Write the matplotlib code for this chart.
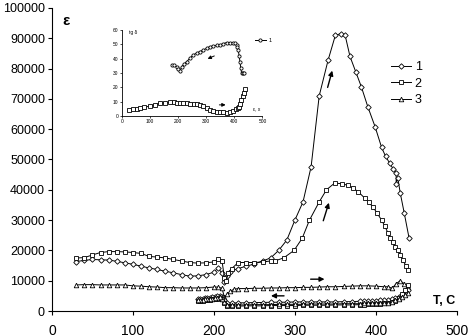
import matplotlib
matplotlib.use("Agg")
import matplotlib.pyplot as plt

plt.rcParams['font.family'] = ['Liberation Sans', 'DejaVu Sans']

# heating curves, main plot
t1 = [30, 40, 50, 60, 70, 80, 90, 100, 110, 120, 130, 140, 150, 160, 170, 180, 190, 200, 205,
      210, 213, 216, 220, 230, 240, 250, 260, 270, 280, 290, 300, 310, 320, 330, 341, 350, 357,
      362, 368, 375, 382, 390, 399, 407, 412, 417, 421, 425, 425, 427, 430, 435, 441]
e1 = [16300, 16700, 17000, 16900, 16800, 16400, 15900, 15400, 14800, 14200, 13700, 13100, 12600,
      12000, 11500, 11600, 12000, 12800, 14200, 12500, 9500, 11500, 13000, 14000, 14800, 15500,
      16500, 17500, 20000, 23400, 30000, 36000, 47600, 71000, 82800, 91000, 91500, 91000, 84000,
      79000, 74000, 67400, 60800, 54000, 51000, 48800, 47000, 45500, 42000, 44000, 39000, 32300, 24000]

t2 = [30, 40, 50, 60, 70, 80, 90, 100, 110, 120, 130, 140, 150, 160, 170, 180, 190, 200, 205,
      210, 213, 215, 218, 222, 230, 240, 250, 260, 270, 275, 286, 299, 309, 318, 330, 339, 349,
      358, 365, 372, 378, 386, 391, 396, 401, 407, 411, 415, 418, 421, 424, 427, 430, 433, 437, 440]
e2 = [17500, 17600, 18500, 19300, 19600, 19600, 19500, 19300, 19000, 18000, 17800, 17500, 17000,
      16500, 16000, 15800, 15900, 16200, 17000, 16500, 11000, 10000, 12500, 14000, 16000, 16000,
      16000, 16200, 16500, 16500, 17500, 20000, 24000, 30000, 36000, 40000, 42200, 42000, 41500,
      40500, 39400, 37300, 36000, 34400, 32500, 30000, 28000, 25700, 24000, 22900, 21000, 20000,
      18500, 16800, 15000, 13500]

t3 = [30, 40, 50, 60, 70, 80, 90, 100, 110, 120, 130, 140, 150, 160, 170, 180, 190, 200, 205,
      210, 213, 216, 220, 225, 230, 240, 250, 260, 270, 280, 290, 300, 310, 320, 330, 340, 350,
      360, 370, 380, 390, 400, 410, 415, 420, 425, 430, 435, 440]
e3 = [8600, 8700, 8700, 8600, 8600, 8600, 8600, 8300, 8200, 8000, 7900, 7700, 7700, 7600, 7600,
      7600, 7700, 7900, 7900, 7500, 4500, 5500, 6500, 7200, 7400, 7400, 7500, 7500, 7600, 7600,
      7700, 7700, 7800, 7800, 7900, 8000, 8000, 8100, 8200, 8300, 8300, 8200, 8000, 8000, 7500,
      9000, 10000, 9000, 8000]

# cooling curves (bottom band)
tc = [440, 436, 432, 428, 424, 420, 415, 410, 405, 400, 395, 390, 385, 380, 370, 360, 350, 340,
      330, 320, 310, 300, 290, 280, 270, 260, 250, 240, 230, 222, 216, 213, 210, 207, 204, 201,
      198, 195, 192, 189, 186, 183, 180]
ec1 = [7000, 6000, 5200, 4600, 4200, 3900, 3700, 3600, 3500, 3400, 3300, 3300, 3200, 3200, 3100,
       3100, 3000, 3000, 3000, 3000, 3000, 3000, 2900, 2900, 2900, 2800, 2800, 2700, 2700, 2600,
       2500, 3500, 4500, 5000, 4800, 4600, 4500, 4400, 4300, 4200, 4100, 4000, 3900]
ec2 = [8500, 7000, 5500, 4200, 3400, 3000, 2700, 2500, 2400, 2300, 2200, 2200, 2100, 2100, 2000,
       2000, 2000, 1900, 1900, 1900, 1900, 1800, 1800, 1800, 1800, 1700, 1700, 1700, 1600, 1600,
       1700, 2800, 3800, 4300, 4100, 3900, 3800, 3700, 3600, 3500, 3400, 3300, 3300]
ec3 = [6000, 5200, 4600, 4000, 3500, 3000, 2800, 2700, 2600, 2600, 2500, 2500, 2500, 2400, 2400,
       2400, 2300, 2300, 2300, 2300, 2200, 2200, 2200, 2200, 2100, 2100, 2100, 2000, 2000, 2000,
       2000, 3000, 4000, 4600, 4400, 4200, 4100, 4000, 3900, 3800, 3700, 3600, 3500]

# inset: tg delta
ti_up = [177, 186, 195, 201, 207, 213, 222, 231, 242, 254, 266, 278, 290, 302, 314, 326, 338,
         349, 361, 373, 385, 396, 403, 408, 411, 414, 417, 420, 423, 426, 430, 435]
vi_up = [35.6, 35.4, 34.4, 32.5, 31.0, 34.4, 36.3, 37.9, 40.2, 42.6, 43.8, 44.9, 46.0, 47.2, 48.4,
         48.8, 49.2, 49.5, 50.4, 51.2, 51.2, 51.2, 50.8, 49.5, 48.0, 46.0, 42.0, 37.9, 33.5, 29.8,
         29.8, 29.8]
ti_lo = [24, 40, 55, 65, 80, 101, 118, 136, 154, 172, 184, 195, 207, 219, 231, 243, 255, 266, 278,
         290, 302, 314, 326, 337, 349, 361, 373, 385, 396, 405, 412, 417, 420, 425, 430, 434, 438]
vi_lo = [4.2, 4.5, 4.8, 5.3, 5.9, 7.0, 7.9, 8.8, 9.2, 9.5, 9.6, 9.3, 9.1, 8.9, 8.8, 8.6, 8.5, 8.4,
         7.8, 6.8, 5.3, 4.3, 3.6, 3.0, 2.6, 2.4, 2.3, 2.8, 3.7, 4.5, 5.5, 6.5, 8.0, 11.0, 14.0,
         15.8, 18.6]

mk = dict(color='black', lw=0.7, mfc='white', mec='black', mew=0.6)

fig = plt.figure(figsize=(4.72, 3.36), dpi=100)
ax = fig.add_axes([0.110, 0.0744, 0.858, 0.902])

ax.plot(t1, e1, marker='D', ms=2.8, label='1', **mk)
ax.plot(t2, e2, marker='s', ms=3.3, label='2', **mk)
ax.plot(t3, e3, marker='^', ms=3.3, label='3', **mk)
ax.plot(tc, ec1, marker='D', ms=2.8, **mk)
ax.plot(tc, ec2, marker='s', ms=3.3, **mk)
ax.plot(tc, ec3, marker='^', ms=3.3, **mk)

arr = dict(arrowstyle='-|>', color='black', lw=1.0, mutation_scale=7)
ax.annotate('', xy=(347, 80200), xytext=(339.5, 72900), arrowprops=arr)
ax.annotate('', xy=(343, 36600), xytext=(334, 28900), arrowprops=arr)
ax.annotate('', xy=(340, 10500), xytext=(316, 10500), arrowprops=arr)
ax.annotate('', xy=(267, 5000), xytext=(290, 5000), arrowprops=arr)

ax.set_xlim(0, 500)
ax.set_ylim(0, 100000)
ax.set_xticks(range(0, 501, 100))
ax.set_yticks(range(0, 100001, 10000))
ax.spines['top'].set_visible(False)
ax.spines['right'].set_visible(False)
ax.tick_params(direction='out', length=3, width=0.8)
ax.tick_params(axis='x', labelsize=10, pad=6)
ax.tick_params(axis='y', labelsize=9, pad=2)
ax.text(484, 2200, 'T, C', fontsize=9, fontweight='bold', ha='center')
ax.text(18, 94500, 'ε', fontsize=11, fontweight='bold', ha='center')

ax.legend(loc='upper left', bbox_to_anchor=(0.825, 0.84), frameon=False, fontsize=9,
          handlelength=1.6, handletextpad=0.3, labelspacing=0.35, borderaxespad=0)

# inset
ins = fig.add_axes([0.258, 0.655, 0.298, 0.256])
ins.plot(ti_up, vi_up, marker='o', ms=2.3, label='1', **mk)
ins.plot(ti_lo, vi_lo, marker='s', ms=2.3, **mk)
ins.set_xlim(0, 500)
ins.set_ylim(0, 60)
ins.set_xticks(range(0, 501, 100))
ins.set_yticks(range(0, 61, 10))
ins.spines['top'].set_visible(False)
ins.spines['right'].set_visible(False)
ins.patch.set_alpha(0)
ins.tick_params(direction='out', length=1.5, width=0.5, labelsize=3.5, pad=1)
for s in ins.spines.values():
    s.set_linewidth(0.6)
ins.text(25, 58, 'tg δ', fontsize=3.5, va='center')
ins.text(468, 5, 'ε, x', fontsize=3.5, va='center')
ins.annotate('', xy=(296, 39.1), xytext=(338, 42.6),
             arrowprops=dict(arrowstyle='-|>', color='black', lw=0.7, mutation_scale=5))
ins.annotate('', xy=(379, 7.7), xytext=(337, 7.7),
             arrowprops=dict(arrowstyle='-|>', color='black', lw=0.7, mutation_scale=5))
ins.legend(loc='upper left', bbox_to_anchor=(0.93, 0.93), frameon=False, fontsize=4,
           handlelength=2.0, handletextpad=0.4, borderaxespad=0)

fig.savefig('out.png', dpi=100)
